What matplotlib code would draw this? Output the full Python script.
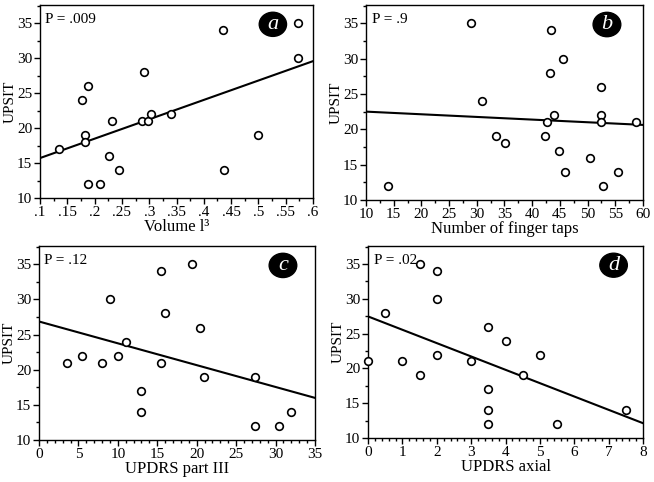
import numpy as np
import matplotlib
matplotlib.use("Agg")
import matplotlib.pyplot as plt
from matplotlib.ticker import MultipleLocator, FuncFormatter
from matplotlib.patches import Ellipse

plt.rcParams['font.family'] = ['Liberation Serif', 'DejaVu Serif']

# panel a: Volume l3 vs UPSIT
vol_x = [0.135, 0.176, 0.187, 0.182, 0.183, 0.187, 0.209, 0.226, 0.231, 0.244,
         0.286, 0.291, 0.298, 0.304, 0.340, 0.435, 0.437, 0.500, 0.572, 0.572]
vol_y = [17, 24, 26, 19, 18, 12, 12, 16, 21, 14,
         21, 28, 21, 22, 22, 34, 14, 19, 35, 30]

# panel b: finger taps vs UPSIT
tap_x = [14, 29, 31, 33.4, 35.1, 43.4, 43.3, 45.5, 44.0, 42.7,
         42.3, 44.8, 46.0, 50.5, 52.5, 52.5, 52.5, 52.7, 55.5, 58.7]
tap_y = [12, 35, 24, 19, 18, 34, 28, 30, 22, 21,
         19, 17, 14, 16, 26, 22, 21, 12, 14, 21]

# panel c: UPDRS part III vs UPSIT
u3_x = [3.5, 5.5, 8, 9, 10, 11, 13, 13, 15.5, 15.5,
        16, 19.4, 20.4, 20.9, 27.4, 27.4, 30.5, 32]
u3_y = [21, 22, 21, 30, 22, 24, 17, 14, 34, 21,
        28, 35, 26, 19, 19, 12, 12, 14]

# panel d: UPDRS axial vs UPSIT
ax_x = [0, 0.5, 1, 1.5, 1.5, 2, 2, 2, 3, 3.5,
        3.5, 3.5, 3.5, 4, 4.5, 5, 5.5, 7.5]
ax_y = [21, 28, 21, 35, 19, 34, 30, 22, 21, 26,
        17, 14, 12, 24, 19, 22, 12, 14]

p_labels = ['P = .009', 'P = .9', 'P = .12', 'P = .02']
panel_letters = ['a', 'b', 'c', 'd']
x_labels = ['Volume l³', 'Number of finger taps', 'UPDRS part III', 'UPDRS axial']


def strip_zero(v, pos):
    s = ('%.2f' % v).rstrip('0').rstrip('.')
    if s.startswith('0.'):
        s = s[1:]
    return s


fig = plt.figure(figsize=(6.54, 4.82), dpi=100)
rects = [
    [0.0612, 0.5892, 0.4174, 0.4004],
    [0.5596, 0.5851, 0.4235, 0.4045],
    [0.0596, 0.0871, 0.4220, 0.4025],
    [0.5627, 0.0913, 0.4205, 0.3983],
]
xlims = [(0.1, 0.6), (10, 60), (0, 35), (0, 8)]
xmajor = [0.05, 5, 5, 1]
xminor = [0.025, 2.5, 1, 0.2]
badge_x = [0.853, 0.87, 0.884, 0.893]
datasets = [(vol_x, vol_y), (tap_x, tap_y), (u3_x, u3_y), (ax_x, ax_y)]

for i, (xs, ys) in enumerate(datasets):
    ax = fig.add_axes(rects[i])
    xs = np.array(xs)
    ys = np.array(ys)
    ax.plot(xs, ys, 'o', mfc='white', mec='black', ms=5.5, mew=1.2,
            clip_on=False, zorder=3)
    slope, icpt = np.polyfit(xs, ys, 1)
    lx = np.array(xlims[i])
    ax.plot(lx, icpt + slope * lx, color='black', lw=1.5, zorder=2)

    ax.set_xlim(*xlims[i])
    ax.set_ylim(10, 37.6)
    ax.xaxis.set_major_locator(MultipleLocator(xmajor[i]))
    ax.xaxis.set_minor_locator(MultipleLocator(xminor[i]))
    ax.yaxis.set_major_locator(MultipleLocator(5))
    ax.yaxis.set_minor_locator(MultipleLocator(2.5))
    ax.set_yticks([10, 15, 20, 25, 30, 35])
    if i == 0:
        ax.xaxis.set_major_formatter(FuncFormatter(strip_zero))
    ax.tick_params(which='major', direction='out', length=4, width=1,
                   labelsize=11, pad=1.5)
    ax.tick_params(which='minor', direction='out', length=2.5, width=1)
    for sp in ax.spines.values():
        sp.set_linewidth(1)
    ax.set_xlabel(x_labels[i], fontsize=12, labelpad=0)
    ax.set_ylabel('UPSIT', fontsize=11, va='center')
    axw_px = rects[i][2] * 654
    ax.yaxis.set_label_coords(-30.0 / axw_px, 0.5)

    ax.text(0.02, 0.96, p_labels[i], transform=ax.transAxes, fontsize=11,
            ha='left', va='top')
    ex = badge_x[i]
    el = Ellipse((ex, 0.9), 0.1, 0.125, transform=ax.transAxes,
                 facecolor='black', edgecolor='black', zorder=4)
    ax.add_patch(el)
    ax.text(ex, 0.9, panel_letters[i], transform=ax.transAxes, color='white',
            fontsize=16, style='italic', ha='center', va='center', zorder=5)

fig.savefig('out.png', dpi=100)
